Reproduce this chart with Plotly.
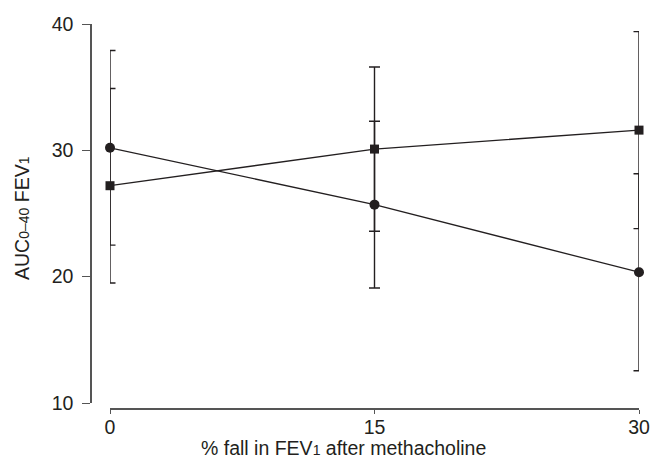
import plotly.graph_objects as go

x_vals = [0, 15, 30]
circle_mean = [30.2, 25.7, 20.35]
circle_err = [7.7, 6.6, 7.8]
square_mean = [27.2, 30.1, 31.6]
square_err = [7.7, 6.5, 7.8]
x_ticks = [0, 15, 30]
y_ticks = [10, 20, 30, 40]
x_title = '% fall in FEV<span style="font-size:14px">1</span> after methacholine'
y_title = 'AUC<span style="font-size:14px">0–40</span> FEV<span style="font-size:14px">1</span>'

INK = "#231f20"
AXIS = "#555555"
FONT = "Liberation Sans, Arial, Helvetica, sans-serif"

fig = go.Figure()
fig.add_trace(go.Scatter(
    x=x_vals, y=circle_mean, mode="lines+markers",
    line=dict(color=INK, width=1.3),
    marker=dict(symbol="circle", size=10, color=INK),
    error_y=dict(type="data", array=circle_err, visible=True, color=INK, thickness=1.4, width=5.5),
    cliponaxis=False, showlegend=False,
))
fig.add_trace(go.Scatter(
    x=x_vals, y=square_mean, mode="lines+markers",
    line=dict(color=INK, width=1.3),
    marker=dict(symbol="square", size=9, color=INK),
    error_y=dict(type="data", array=square_err, visible=True, color=INK, thickness=1.4, width=5.5),
    cliponaxis=False, showlegend=False,
))

W, H = 651, 459
ml, mr, mt, mb = 91, 12, 24, 50
pw = W - ml - mr
ph = H - mt - mb

fig.update_layout(
    width=W, height=H,
    margin=dict(l=ml, r=mr, t=mt, b=mb, pad=0),
    paper_bgcolor="white", plot_bgcolor="white",
    font=dict(family=FONT, size=19.5, color=INK),
    xaxis=dict(
        domain=[19 / pw, 1], range=[0, 30], anchor="free", position=0,
        automargin=False,
        showline=True, linecolor=AXIS, linewidth=1.5,
        ticks="outside", ticklen=4, tickwidth=1.2, tickcolor=AXIS,
        tickvals=x_ticks, ticktext=[str(v) for v in x_ticks],
        ticklabelstandoff=-3,
        showgrid=False, zeroline=False,
        tickfont=dict(size=19.5, color=INK),
    ),
    yaxis=dict(
        domain=[6 / ph, 1], range=[10, 40], anchor="free", position=0,
        automargin=False,
        showline=True, linecolor=AXIS, linewidth=1.5,
        ticks="outside", ticklen=8, tickwidth=1.2, tickcolor=AXIS,
        tickvals=y_ticks, ticktext=[str(v) for v in y_ticks],
        ticklabelstandoff=5,
        showgrid=False, zeroline=False,
        tickfont=dict(size=19.5, color=INK),
    ),
    annotations=[
        dict(text=x_title, xref="paper", yref="paper",
             x=(343 - ml) / pw, y=-(448 - (H - mb)) / ph,
             xanchor="center", yanchor="middle", showarrow=False,
             font=dict(size=19.5, color=INK)),
        dict(text=y_title, xref="paper", yref="paper",
             x=(22 - ml) / pw, y=((H - mb) - 218) / ph,
             xanchor="center", yanchor="middle", showarrow=False, textangle=-90,
             font=dict(size=19.5, color=INK)),
    ],
)

fig.write_html("out.html")
